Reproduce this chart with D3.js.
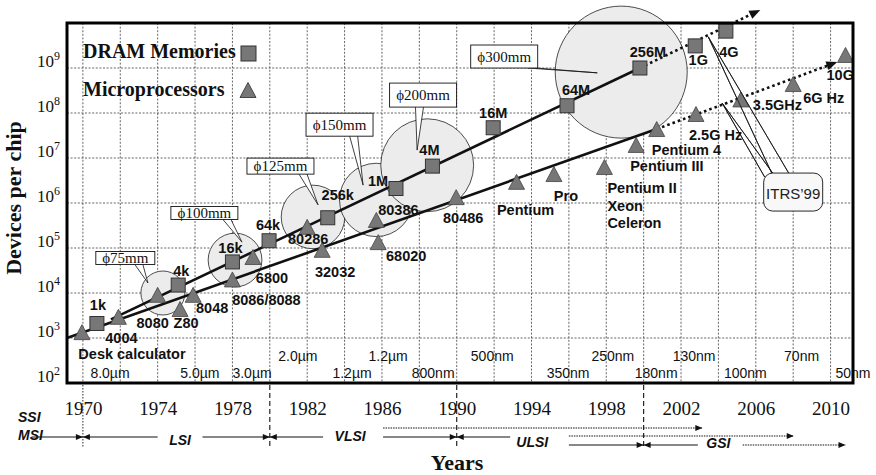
<!DOCTYPE html>
<html>
<head>
<meta charset="utf-8">
<script src="https://cdn.jsdelivr.net/npm/d3@7"></script>
<style>
  body { margin: 0; background: #fff; }
  svg { display: block; }
</style>
</head>
<body>
<svg id="chart" width="876" height="475"></svg>
<script>
// ---- DRAM generations (year of introduction, devices per chip) ----
const dramNames   = ["1k", "4k", "16k", "64k", "256k", "1M", "4M", "16M", "64M", "256M", "1G", "4G"];
const dramYears   = [1970.75, 1975.1, 1978.0, 1979.96, 1983.1, 1986.75, 1988.7, 1991.95, 1995.9, 1999.8, 2002.76, 2004.4];
const dramDevices = [2.1e3, 1.5e4, 4.9e4, 1.45e5, 4.7e5, 2.1e6, 6.6e6, 4.7e7, 1.45e8, 1.0e9, 3.1e9, 6.6e9];

// ---- Microprocessors ----
const cpuNames   = ["Desk calculator", "4004", "8080", "Z80", "8048", "8086/8088", "6800", "80286", "32032", "80386", "68020",
                    "80486", "Pentium", "Pro", "Pentium II|Xeon|Celeron", "Pentium III", "Pentium 4", "2.5G Hz", "3.5GHz", "6G Hz", "10G"];
const cpuYears   = [1969.95, 1971.9, 1974.0, 1975.2, 1975.9, 1978.0, 1979.1, 1982.0, 1982.8, 1985.7, 1985.8,
                    1989.97, 1993.2, 1995.2, 1997.9, 1999.6, 2000.7, 2002.8, 2005.2, 2008.0, 2010.8];
const cpuDevices = [1.35e3, 2.95e3, 9.1e3, 4.4e3, 9.1e3, 2.0e4, 6.3e4, 2.95e5, 9.1e4, 4.2e5, 1.35e5,
                    1.35e6, 2.95e6, 4.4e6, 6.3e6, 1.95e7, 4.4e7, 9.5e7, 2.0e8, 4.4e8, 1.95e9];

// ---- Trend lines: solid up to the middle point, projected (dotted) after it ----
const dramTrendYears   = [1971.5, 1999.8, 2006.24];
const dramTrendDevices = [2.6e3, 1.0e9, 1.95e10];
const cpuTrendYears    = [1969.15, 2000.7, 2010.36];
const cpuTrendDevices  = [1.0e3, 4.4e7, 1.36e9];

// ---- Wafer diameters (mm), wafer circle centres and their tags ----
const waferSizes      = [75, 100, 125, 150, 200, 300];
const waferYears      = [1974.28, 1978.14, 1982.31, 1985.69, 1988.42, 1998.8];
const waferDevices    = [1.0e4, 5.4e4, 4.9e5, 1.17e6, 6.9e6, 8.1e8];
const waferTagYears   = [1972.27, 1976.5, 1980.57, 1983.73, 1988.2, 1992.54];
const waferTagDevices = [6.0e4, 6.0e5, 6.6e6, 5.5e7, 2.5e8, 1.8e9];
const waferTipYears   = [1973.48, 1978.51, 1982.58, 1984.99, 1987.88, 1997.52];
const waferTipDevices = [1.67e4, 1.35e5, 9.1e5, 2.5e6, 1.5e7, 7.8e8];

// ---- ITRS'99 roadmap note ----
const itrsYear = 2008.0, itrsDevices = 1.75e6;
const itrsTipYears   = [2003.46, 2004.2];
const itrsTipDevices = [4.9e9, 1.66e8];

// ---- Minimum feature size per period (two staggered rows) ----
const featureUpper      = ["2.0µm", "1.2µm", "500nm", "250nm", "130nm", "70nm"];
const featureUpperYears = [1981.5, 1986.33, 1991.9, 1998.35, 2002.7, 2008.45];
const featureLower      = ["8.0µm", "5.0µm", "3.0µm", "1.2µm", "800nm", "350nm", "180nm", "100nm", "50nm"];
const featureLowerYears = [1971.45, 1976.26, 1979.05, 1984.4, 1988.74, 1995.96, 2000.67, 2005.44, 2011.2];

// ---- Axis ticks ----
const yearTicks   = [1970, 1974, 1978, 1982, 1986, 1990, 1994, 1998, 2002, 2006, 2010];
const gridYears   = d3.range(1970, 2011, 2);
const decadeTicks = [1e2, 1e3, 1e4, 1e5, 1e6, 1e7, 1e8, 1e9];

// ---- Integration eras ----
const eraNames      = ["LSI", "VLSI", "ULSI", "GSI"];
const eraBounds     = [1970, 1980, 1990, 2000];
const eraLabelYears = [1975.2, 1984.3, 1994.04, 2004.0];

// ---- label placement (pixel offsets from each marker) ----
const dramTagOffset = [[1,-19],[3,-14],[-2,-14],[-1,-16],[10,-23],[-18,-8],[-3,-16],[0,-15],[9,-16],[8,-16],[3,14],[3,21]];
const cpuTagOffset  = [[50,22,"middle"],[3,21,"middle"],[-5,28,"middle"],[6,14,"middle"],[19,13,"middle"],[34,21,"middle"],
                       [19,21,"middle"],[1,12,"middle"],[13,22,"middle"],[22,-10,"middle"],[28,14,"middle"],[7,21,"middle"],
                       [9,28,"middle"],[12,22,"middle"],[3,21,"start"],[-6,21,"start"],[-5,21,"start"],[-7,21,"start"],
                       [12,6,"start"],[10,14,"start"],[-19,20,"start"]];
const waferTagHeights = [13, 13, 16, 23, 24, 23];

const SERIF = "'Liberation Serif', 'Times New Roman', Times, serif";
const SANS  = "'Liberation Sans', Arial, Helvetica, sans-serif";

const svg = d3.select("#chart");
const pLeft = 67, pRight = 853, pTop = 23, pBottom = 383;

const x = d3.scaleLinear().domain([1969.15, 2011.2]).range([pLeft, pRight]);
const y = d3.scaleLog().domain([1e2, 1e10]).range([pBottom, pTop]);
const waferR = d3.scaleLinear().domain([75, 300]).range([22, 66]);

// ---------- grid ----------
const grid = svg.append("g")
  .attr("stroke", "#555").attr("stroke-width", 0.9).attr("stroke-dasharray", "2,1.6");
grid.selectAll("line.v").data(gridYears).join("line").attr("class", "v")
  .attr("x1", d => x(d)).attr("x2", d => x(d)).attr("y1", pTop).attr("y2", pBottom);
grid.selectAll("line.h").data(decadeTicks.slice(1)).join("line").attr("class", "h")
  .attr("x1", pLeft).attr("x2", pRight).attr("y1", d => y(d)).attr("y2", d => y(d));

// ---------- wafer circles ----------
svg.append("g").selectAll("circle").data(waferSizes).join("circle")
  .attr("cx", (d, i) => x(waferYears[i]))
  .attr("cy", (d, i) => y(waferDevices[i]))
  .attr("r", d => waferR(d))
  .attr("fill", "#ececec").attr("stroke", "#222").attr("stroke-width", 0.8);

// ---------- feature-size labels ----------
const feat = svg.append("g").attr("font-family", SANS).attr("font-size", 14).attr("fill", "#111")
  .attr("text-anchor", "middle");
feat.selectAll("text.u").data(featureUpper).join("text").attr("class", "u")
  .attr("x", (d, i) => x(featureUpperYears[i])).attr("y", 361).text(d => d);
feat.selectAll("text.l").data(featureLower).join("text").attr("class", "l")
  .attr("x", (d, i) => x(featureLowerYears[i])).attr("y", 378).text(d => d);

// ---------- trend lines ----------
function arrowHead(g, x1, y1, x2, y2, len, w, fill) {
  const a = Math.atan2(y2 - y1, x2 - x1);
  const bx = x2 - len * Math.cos(a), by = y2 - len * Math.sin(a);
  const px = Math.sin(a) * w / 2, py = -Math.cos(a) * w / 2;
  g.append("path")
    .attr("d", `M${x2},${y2}L${bx + px},${by + py}L${bx - px},${by - py}Z`)
    .attr("fill", fill || "#111").attr("stroke", "none");
}
const trend = svg.append("g");
const lineGen = d3.line().x(d => x(d[0])).y(d => y(d[1]));
function drawTrend(years, devs) {
  const pts = years.map((yr, i) => [yr, devs[i]]);
  trend.append("path").attr("d", lineGen(pts.slice(0, 2)))
    .attr("fill", "none").attr("stroke", "#111").attr("stroke-width", 2.6);
  const x1 = x(pts[1][0]), y1 = y(pts[1][1]), x2 = x(pts[2][0]), y2 = y(pts[2][1]);
  const a = Math.atan2(y2 - y1, x2 - x1);
  trend.append("line")
    .attr("x1", x1).attr("y1", y1)
    .attr("x2", x2 - 8 * Math.cos(a)).attr("y2", y2 - 8 * Math.sin(a))
    .attr("stroke", "#111").attr("stroke-width", 2.6).attr("stroke-dasharray", "2.6,3");
  arrowHead(trend, x1, y1, x2, y2, 11, 9);
}
drawTrend(dramTrendYears, dramTrendDevices);
drawTrend(cpuTrendYears, cpuTrendDevices);

// ---------- ITRS'99 pointers (drawn under the markers they cross) ----------
const itrs = svg.append("g");
const itrsBox = { cx: x(itrsYear), cy: y(itrsDevices), w: 59, h: 38 };
{
  const bx = itrsBox.cx - itrsBox.w / 2, by = itrsBox.cy - itrsBox.h / 2;
  const tips = itrsTipYears.map((yr, i) => [x(yr), y(itrsTipDevices[i])]);
  itrs.append("path")
    .attr("d", `M${bx + 8},${by}L${tips[0][0]},${tips[0][1]}L${bx + 25},${by}`)
    .attr("fill", "none").attr("stroke", "#111").attr("stroke-width", 0.8);
  itrs.append("path")
    .attr("d", `M${bx + 1},${by + 4}L${tips[1][0]},${tips[1][1]}L${bx + 9},${by}`)
    .attr("fill", "none").attr("stroke", "#111").attr("stroke-width", 0.8);
}

// ---------- markers ----------
const SQ = 14;
const triPath = (cx, cy, w, h) => `M${cx},${cy - h / 2}L${cx + w / 2},${cy + h / 2}L${cx - w / 2},${cy + h / 2}Z`;

svg.append("g").selectAll("path").data(cpuNames).join("path")
  .attr("d", (d, i) => triPath(x(cpuYears[i]), y(cpuDevices[i]), 16, 15))
  .attr("fill", "#777").attr("stroke", "#444").attr("stroke-width", 0.8);

svg.append("g").selectAll("rect").data(dramNames).join("rect")
  .attr("x", (d, i) => x(dramYears[i]) - SQ / 2)
  .attr("y", (d, i) => y(dramDevices[i]) - SQ / 2)
  .attr("width", SQ).attr("height", SQ)
  .attr("fill", "#777").attr("stroke", "#333").attr("stroke-width", 1);

// ITRS pointer lines stay visible across the markers
itrs.clone(true).raise();
{
  const g = svg.append("g");
  g.append("rect").attr("x", itrsBox.cx - itrsBox.w / 2).attr("y", itrsBox.cy - itrsBox.h / 2)
    .attr("width", itrsBox.w).attr("height", itrsBox.h)
    .attr("rx", 9).attr("fill", "#f8f8f8").attr("stroke", "#111").attr("stroke-width", 0.9);
  g.append("text").attr("x", itrsBox.cx).attr("y", itrsBox.cy + 1).attr("dominant-baseline", "central")
    .attr("text-anchor", "middle").attr("font-family", SANS).attr("font-size", 15)
    .attr("fill", "#222").text("ITRS’99");
}

// ---------- marker labels ----------
const labels = svg.append("g").attr("font-family", SANS).attr("font-weight", "bold")
  .attr("font-size", 14.5).attr("fill", "#111");
labels.selectAll("text.dram").data(dramNames).join("text").attr("class", "dram")
  .attr("x", (d, i) => x(dramYears[i]) + dramTagOffset[i][0])
  .attr("y", (d, i) => y(dramDevices[i]) + dramTagOffset[i][1])
  .attr("text-anchor", "middle").attr("dominant-baseline", "central")
  .text(d => d);
labels.selectAll("text.cpu").data(cpuNames).join("text").attr("class", "cpu")
  .attr("text-anchor", (d, i) => cpuTagOffset[i][2])
  .each(function (d, i) {
    const t = d3.select(this);
    const tx = x(cpuYears[i]) + cpuTagOffset[i][0];
    const ty = y(cpuDevices[i]) + cpuTagOffset[i][1];
    d.split("|").forEach((part, k) => {
      t.append("tspan").attr("x", tx).attr("y", ty + k * 17.5)
        .attr("dominant-baseline", "central").text(part);
    });
  });

// ---------- wafer callouts ----------
const callouts = svg.append("g");
function callout(cx, cy, w, h, tx, ty, half, fill) {
  let b1, b2;
  if (ty > cy + h / 2) {
    const bx = Math.max(cx - w / 2 + half + 2, Math.min(cx + w / 2 - half - 2, cx + 0.6 * (tx - cx)));
    b1 = [bx - half, cy + h / 2]; b2 = [bx + half, cy + h / 2];
  } else {
    const by = Math.max(cy - h / 2 + half + 1, Math.min(cy + h / 2 - half - 1, cy + 0.6 * (ty - cy)));
    b1 = [cx + w / 2, by - half]; b2 = [cx + w / 2, by + half];
  }
  callouts.append("path")
    .attr("d", `M${b1[0]},${b1[1]}L${tx},${ty}L${b2[0]},${b2[1]}`)
    .attr("fill", fill).attr("stroke", "#111").attr("stroke-width", 0.8);
  callouts.append("rect")
    .attr("x", cx - w / 2).attr("y", cy - h / 2).attr("width", w).attr("height", h)
    .attr("fill", fill).attr("stroke", "#111").attr("stroke-width", 0.9);
}
waferSizes.forEach((d, i) => {
  const cx = x(waferTagYears[i]), cy = y(waferTagDevices[i]);
  const w = d < 100 ? 59 : 67, h = waferTagHeights[i];
  callout(cx, cy, w, h, x(waferTipYears[i]), y(waferTipDevices[i]), 4, "#fff");
  callouts.append("text")
    .attr("x", cx).attr("y", cy).attr("dominant-baseline", "central")
    .attr("text-anchor", "middle").attr("font-family", SERIF).attr("font-size", 15)
    .attr("fill", "#111").text("\u03D5" + d + "mm");
});

// ---------- legend ----------
const legend = svg.append("g").attr("font-family", SERIF).attr("font-weight", "bold")
  .attr("font-size", 20).attr("fill", "#111");
legend.append("text").attr("x", 83).attr("y", 58).text("DRAM Memories");
legend.append("rect").attr("x", 241).attr("y", 46).attr("width", 15).attr("height", 15)
  .attr("fill", "#777").attr("stroke", "#333");
legend.append("text").attr("x", 83).attr("y", 96).text("Microprocessors");
legend.append("path").attr("d", triPath(248, 90, 16, 15)).attr("fill", "#777").attr("stroke", "#444");

// ---------- frame ----------
svg.append("rect").attr("x", pLeft).attr("y", pTop).attr("width", pRight - pLeft).attr("height", pBottom - pTop)
  .attr("fill", "none").attr("stroke", "#000").attr("stroke-width", 3);

// ---------- axes ----------
const xAxis = svg.append("g").attr("transform", `translate(0,${pBottom})`)
  .call(d3.axisBottom(x).tickValues(yearTicks).tickSize(0).tickPadding(19).tickFormat(d3.format("d")));
xAxis.select(".domain").remove();
xAxis.selectAll("text").attr("font-family", SERIF).attr("font-size", 19).attr("fill", "#111");

const yAxis = svg.append("g").attr("transform", `translate(${pLeft},0)`)
  .call(d3.axisLeft(y).tickValues(decadeTicks).tickSize(0).tickPadding(7).tickFormat(() => ""));
yAxis.select(".domain").remove();
yAxis.selectAll(".tick text").each(function (d) {
  const t = d3.select(this).attr("font-family", SERIF).attr("font-size", 17).attr("fill", "#111")
    .attr("dy", null).attr("y", -2);
  t.append("tspan").text("10");
  t.append("tspan").attr("font-size", 12).attr("dy", -7).text(Math.round(Math.log10(d)));
});

svg.append("text").attr("transform", "translate(21,198) rotate(-90)")
  .attr("text-anchor", "middle").attr("font-family", SERIF).attr("font-weight", "bold")
  .attr("font-size", 22).attr("fill", "#111").text("Devices per chip");
svg.append("text").attr("x", 457).attr("y", 470).attr("text-anchor", "middle")
  .attr("font-family", SERIF).attr("font-weight", "bold").attr("font-size", 22).attr("fill", "#111")
  .text("Years");

// ---------- integration eras ----------
const era = svg.append("g").attr("stroke", "#111").attr("fill", "none");
era.append("line").attr("x1", x(1970)).attr("x2", x(1970)).attr("y1", pBottom + 2).attr("y2", 447)
  .attr("stroke-width", 0.9).attr("stroke-dasharray", "1.5,1.5");
era.selectAll("line.b").data(eraBounds.slice(1)).join("line").attr("class", "b")
  .attr("x1", d => x(d)).attr("x2", d => x(d)).attr("y1", pBottom + 2).attr("y2", 447)
  .attr("stroke-width", 1.1).attr("stroke-dasharray", "5,3");

function seg(y0, y1, yv, opts) {
  const x0 = x(y0), x1 = x(y1);
  era.append("line").attr("x1", x0).attr("x2", x1).attr("y1", yv).attr("y2", yv)
    .attr("stroke-width", opts.dotted ? 1 : 1.1)
    .attr("stroke-dasharray", opts.dotted ? "1.5,1" : null);
  if (opts.headR) arrowHead(era, x0, yv, x1, yv, 7, 6);
  if (opts.headL) arrowHead(era, x1, yv, x0, yv, 7, 6);
}
seg(1967.25, 1970, 437, { headR: true });
seg(1970, 1974.0, 437, { headL: true });
seg(1976.4, 1980, 437, { headR: true });
seg(1980, 1982.85, 437, { headL: true });
seg(1986.06, 1990, 437, { headR: true });
seg(1986.06, 2003.14, 428, { dotted: true, headR: true });
seg(1990, 1992.86, 437, { headL: true });
seg(1996.0, 2008.03, 436, { dotted: true, headR: true });
seg(1996.0, 2000, 445, { headR: true });
seg(2000, 2002.9, 445, { headL: true });
seg(2005.3, 2010.8, 445, { dotted: true, headR: true });

const eraText = svg.append("g").attr("font-family", SANS).attr("font-weight", "bold")
  .attr("font-style", "italic").attr("font-size", 14).attr("fill", "#111");
const eraY = [440, 436, 442, 443];
eraText.selectAll("text.e").data(eraNames).join("text").attr("class", "e")
  .attr("x", (d, i) => x(eraLabelYears[i])).attr("y", (d, i) => eraY[i])
  .attr("text-anchor", "middle").attr("dominant-baseline", "central").text(d => d);
eraText.append("text").attr("x", 18).attr("y", 422).text("SSI");
eraText.append("text").attr("x", 18).attr("y", 440).text("MSI");
</script>
</body>
</html>
